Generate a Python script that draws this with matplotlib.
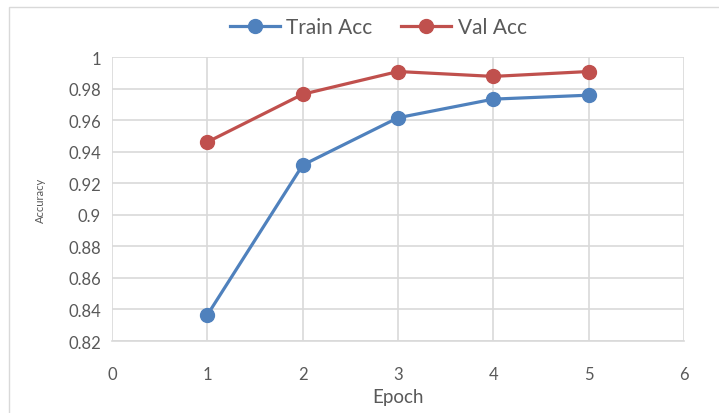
import matplotlib.pyplot as plt
from matplotlib.patches import Rectangle

epochs = [1, 2, 3, 4, 5]
train_acc = [0.8365, 0.9315, 0.9615, 0.9733, 0.9758]
val_acc = [0.9461, 0.9764, 0.9908, 0.9877, 0.9908]

x_ticks = [0, 1, 2, 3, 4, 5, 6]
y_ticks = [0.82, 0.84, 0.86, 0.88, 0.9, 0.92, 0.94, 0.96, 0.98, 1.0]
y_labels = ["0.82", "0.84", "0.86", "0.88", "0.9", "0.92", "0.94", "0.96", "0.98", "1"]

plt.rcParams["font.family"] = ["Lato", "DejaVu Sans"]

fig = plt.figure(figsize=(7.19, 4.14), dpi=100)
ax = fig.add_axes([0.1558, 0.1739, 0.7955, 0.686])

# рамка диаграммы как в Excel
fig.patches.append(Rectangle((9 / 719, -0.05), 1.0, 1 - 8 / 414 + 0.05, transform=fig.transFigure,
                             fill=False, edgecolor="#D9D9D9", linewidth=1.0))

ax.plot(epochs, train_acc, color="#4F81BD", linewidth=2.3, marker="o", markersize=10, label="Train Acc",
        zorder=3)
ax.plot(epochs, val_acc, color="#C0504D", linewidth=2.3, marker="o", markersize=10, label="Val Acc",
        zorder=3)

ax.set_xlim(0, 6)
ax.set_ylim(0.82, 1.0)
ax.set_xticks(x_ticks)
ax.set_yticks(y_ticks)
ax.set_yticklabels(y_labels)
ax.grid(True, color="#D9D9D9", linewidth=1.2)
ax.set_axisbelow(True)
for side in ["top", "right", "left"]:
    ax.spines[side].set_visible(False)
ax.spines["bottom"].set_color("#D9D9D9")
ax.spines["bottom"].set_linewidth(1.2)
ax.tick_params(length=0, labelsize=12, labelcolor="#595959")
ax.tick_params(axis="y", pad=8)
ax.tick_params(axis="x", pad=18)

ax.set_xlabel("Epoch", fontsize=13.5, color="#595959", labelpad=4)
fig.text(40 / 719, 1 - 200 / 414, "Accuracy", rotation=90, fontsize=8, color="#595959",
         ha="center", va="center")

fig.legend(loc="center", bbox_to_anchor=(0.526, 0.932), ncol=2, frameon=False, fontsize=15,
           labelcolor="#595959", handlelength=2.4, columnspacing=1.4, handletextpad=0.3)

fig.savefig("out.png", dpi=100)
